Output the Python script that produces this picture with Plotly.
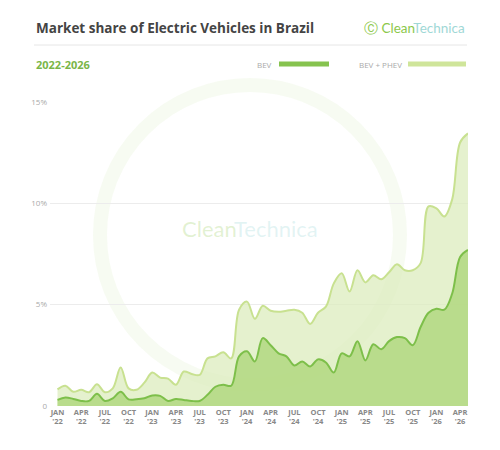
import plotly.graph_objects as go

# monthly points, Jan 2022 .. May 2026
months = list(range(53))
bev = [0.30, 0.42, 0.35, 0.25, 0.25, 0.60, 0.25, 0.38, 0.70, 0.33, 0.33, 0.38,
       0.52, 0.50, 0.25, 0.35, 0.30, 0.25, 0.25, 0.55, 0.95, 1.05, 1.00, 2.45,
       2.70, 2.20, 3.35, 3.00, 2.60, 2.45, 2.00, 2.20, 1.95, 2.30, 2.15, 1.65,
       2.60, 2.45, 3.20, 2.25, 3.05, 2.80, 3.20, 3.40, 3.35, 3.00, 3.90, 4.60,
       4.80, 4.75, 5.55, 7.35, 7.70]
bev_phev = [0.82, 1.00, 0.70, 0.80, 0.68, 1.07, 0.68, 0.87, 1.90, 0.87, 0.80, 1.15,
            1.65, 1.40, 1.35, 1.05, 1.70, 1.58, 1.53, 2.35, 2.45, 2.65, 2.35, 4.75,
            5.15, 4.30, 4.95, 4.70, 4.65, 4.70, 4.75, 4.60, 4.05, 4.60, 4.90, 6.05,
            6.55, 5.65, 6.70, 6.10, 6.45, 6.25, 6.60, 7.00, 6.70, 6.70, 7.05, 9.85,
            9.75, 9.35, 10.20, 13.00, 13.45]
tick_idx = list(range(0, 53, 3))
tick_text = ["JAN<br>'22", "APR<br>'22", "JUL<br>'22", "OCT<br>'22",
             "JAN<br>'23", "APR<br>'23", "JUL<br>'23", "OCT<br>'23",
             "JAN<br>'24", "APR<br>'24", "JUL<br>'24", "OCT<br>'24",
             "JAN<br>'25", "APR<br>'25", "JUL<br>'25", "OCT<br>'25",
             "JAN<br>'26", "APR<br>'26"]

OFF = 8  # page body margin
W, H = 500 - OFF, 450 - OFF
L, R, T, B = 50 - OFF, 468 - OFF, 102 - OFF, 406 - OFF


def px(x, y):
    # reference pixel position -> plot-area paper coords
    return (x - OFF - L) / (R - L), (B - (y - OFF)) / (B - T)


fig = go.Figure()
fig.add_trace(go.Scatter(x=months, y=bev_phev, mode="lines", fill="tozeroy",
                         line=dict(color="#c8e190", width=2, shape="spline"),
                         fillcolor="rgba(220,236,190,0.75)", name="BEV + PHEV"))
fig.add_trace(go.Scatter(x=months, y=bev, mode="lines", fill="tozeroy",
                         line=dict(color="#7dbf4a", width=2, shape="spline"),
                         fillcolor="rgba(178,216,128,0.85)", name="BEV"))

# faint watermark
cx0, cy0 = px(100, 385)
cx1, cy1 = px(400, 85)
fig.add_shape(type="circle", xref="paper", yref="paper", x0=cx0, x1=cx1,
              y0=cy0, y1=cy1, line=dict(color="rgba(140,200,75,0.07)", width=14),
              layer="below")
wx, wy = px(250, 228)
fig.add_annotation(x=wx, y=wy, xref="paper", yref="paper", showarrow=False,
                   text="<span style='color:rgba(140,200,75,0.25)'>Clean</span>"
                        "<span style='color:rgba(140,210,210,0.25)'>Technica</span>",
                   font=dict(family="Lato", size=22))

ann = [
    dict(x=34, y=28, text="<b>Market share of Electric Vehicles in Brazil</b>",
         font=dict(size=13.5, color="#444", family="Open Sans"), xanchor="left"),
    dict(x=467, y=28, text="<span style='color:#8cc84b'>Ⓒ Clean</span>"
                           "<span style='color:#9fd8d6'>Technica</span>",
         font=dict(size=13.5, family="Lato"), xanchor="right"),
    dict(x=34, y=64, text="<b>2022-2026</b>",
         font=dict(size=11, color="#7ab648", family="Open Sans"), xanchor="left"),
    dict(x=274, y=64, text="BEV", font=dict(size=8, color="#aaa", family="Open Sans"),
         xanchor="right"),
    dict(x=404, y=64, text="BEV + PHEV", font=dict(size=8, color="#aaa", family="Open Sans"),
         xanchor="right"),
]
for a in ann:
    ax, ay = px(a["x"], a["y"])
    fig.add_annotation(xref="paper", yref="paper", showarrow=False, yanchor="middle",
                       **{**a, "x": ax, "y": ay})

x0, y0 = px(34, 45)
x1, _ = px(467, 45)
fig.add_shape(type="line", xref="paper", yref="paper", x0=x0, x1=x1, y0=y0, y1=y0,
              line=dict(color="#e6e6e6", width=1))
for a, b, c in [(279, 329, "#86c34f"), (408, 466, "#cfe59a")]:
    xa, yy = px(a, 64)
    xb, _ = px(b, 64)
    fig.add_shape(type="line", xref="paper", yref="paper", x0=xa, x1=xb, y0=yy, y1=yy,
                  line=dict(color=c, width=5))

fig.update_layout(
    width=W, height=H, showlegend=False,
    margin=dict(l=L, r=W - R, t=T, b=H - B),
    paper_bgcolor="white", plot_bgcolor="white",
    xaxis=dict(range=[-0.95, 52], tickvals=tick_idx,
               ticktext=["<b>%s</b>" % t for t in tick_text],
               showgrid=False, zeroline=False, showline=False,
               tickfont=dict(size=7.5, color="#888", family="Open Sans"),
               fixedrange=True),
    yaxis=dict(range=[0, 15], tickvals=[0, 5, 10, 15], ticktext=["0", "5%", "10%", "15%"],
               gridcolor="#ececec", zeroline=False, showline=False,
               tickfont=dict(size=8, color="#aaa", family="Open Sans"), ticklabelstandoff=2),
)
fig.write_html("out.html")
